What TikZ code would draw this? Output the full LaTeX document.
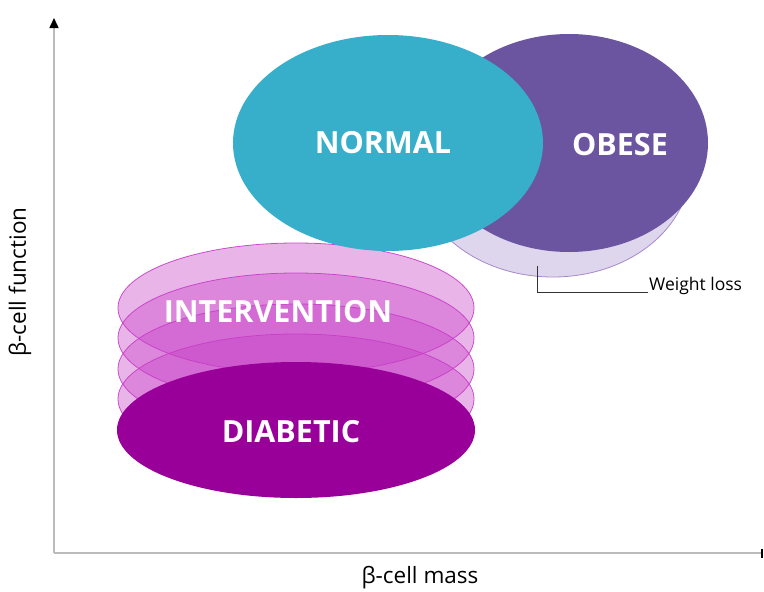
\documentclass[tikz,border=0pt]{standalone}
\usepackage{fontspec}
\setmainfont{Open Sans}
\usetikzlibrary{arrows.meta}
\definecolor{normalc}{HTML}{37AECA}
\definecolor{obesec}{HTML}{6B55A0}
\definecolor{shadowf}{HTML}{DED6EC}
\definecolor{shadowd}{HTML}{A888CC}
\definecolor{diab}{HTML}{990099}
\definecolor{stackc}{HTML}{C63CC6}
\definecolor{axisc}{HTML}{BBBBBB}
\tikzset{
  layer/.style={fill=stackc, fill opacity=0.38, draw=stackc, draw opacity=0.9, line width=0.8pt},
  bigtxt/.style={text=white, font=\bfseries\fontsize{30.5}{34}\selectfont},
  axlbl/.style={font=\fontsize{22.5}{26}\selectfont, text=black},
}
\begin{document}
\begin{tikzpicture}[x=1pt,y=-1pt]
\useasboundingbox (0,0) rectangle (764,592);
% axes
\coordinate (o) at (54,553);
\coordinate (ytop) at (54,18);
\coordinate (xend) at (763,553);
\draw[axisc, line width=1.5pt, -{Triangle[black,length=10pt,width=9pt]}] (o) -- (ytop);
\draw[axisc, line width=1.5pt, -{Bar[black,width=9pt,line width=2pt]}] (o) -- (xend);
\node[axlbl, rotate=90] (ylab) at (20,282) {β-cell function};
\node[axlbl] (xlab) at (420,578) {β-cell mass};
% stack
\foreach \cy/\nm in {308/l1,338/l2,369/l3,399/l4}{
  \path[layer] (296,\cy) ellipse [x radius=178, y radius=65];
}
\path[fill=diab] (296,430) ellipse [x radius=179, y radius=68];
\node[bigtxt] (interv) at (278,312) {INTERVENTION};
\node[bigtxt] (diabetic) at (291,432) {DIABETIC};
% weight loss shadow
\path[fill=shadowf, draw=shadowd, line width=0.8pt] (553,168) ellipse [x radius=137, y radius=109];
\path[fill=obesec] (569,143) ellipse [x radius=139, y radius=109];
\path[fill=normalc] (388,143) ellipse [x radius=155, y radius=108];
\node[bigtxt] (normal) at (383,143) {NORMAL};
\node[bigtxt] (obese) at (620,145) {OBESE};
% weight loss label
\coordinate (wl0) at (537,266);
\node[font=\fontsize{17.5}{20}\selectfont, anchor=west, inner sep=1pt] (wl) at (648,286) {Weight loss};
\draw[black!80, line width=0.7pt] (wl0) |- ([yshift=-6pt]wl.west);
\end{tikzpicture}
\end{document}
